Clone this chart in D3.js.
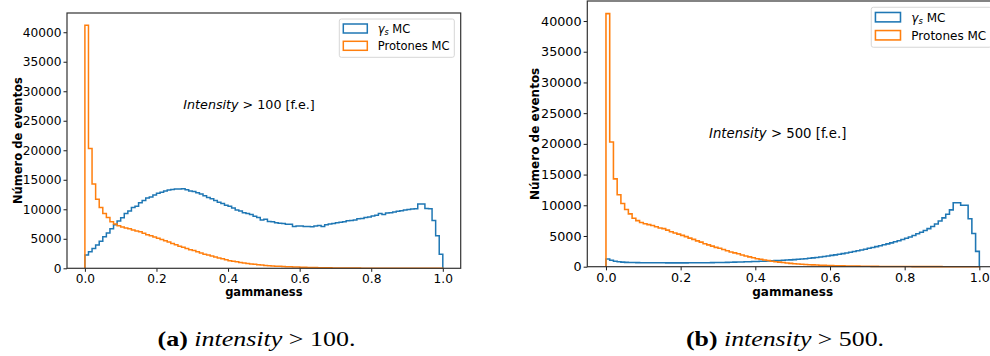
<!DOCTYPE html>
<html>
<head>
<meta charset="utf-8">
<script src="https://cdn.jsdelivr.net/npm/d3@7"></script>
<style>
  html, body { margin: 0; padding: 0; background: #fff; }
  svg { display: block; }
  text { font-family: "DejaVu Sans", sans-serif; fill: #000; }
</style>
</head>
<body>
<svg id="fig" width="990" height="356"></svg>
<script>
// Histogram binning of gammaness: 100 bins of width 0.01 on [0, 1]
const binStart = 0;
const binWidth = 0.01;

const xTickValues = [0, 0.2, 0.4, 0.6, 0.8, 1.0];
const yTickValues = [0, 5000, 10000, 15000, 20000, 25000, 30000, 35000, 40000];

// Gamma MC counts per bin, intensity > 100 p.e.
const gammas100 = [
  2250, 2800, 3350, 3950, 4600, 5350, 6000, 6700, 7400, 8000,
  8550, 9300, 9700, 10300, 10500, 11100, 11500, 11900, 12100, 12400,
  12700, 12900, 13100, 13250, 13350, 13450, 13450, 13500, 13300, 13100,
  13000, 12800, 12600, 12300, 12000, 11800, 11500, 11200, 11000, 10700,
  10500, 10200, 9900, 9700, 9400, 9300, 9100, 8800, 8600, 8200,
  8300, 7950, 7900, 7700, 7650, 7600, 7450, 7450, 7100, 7150,
  7150, 7100, 7100, 7050, 7150, 7250, 7100, 7400, 7500, 7600,
  7700, 7800, 7900, 8050, 8100, 8200, 8400, 8450, 8600, 8700,
  8850, 9000, 9300, 9100, 9350, 9400, 9550, 9650, 9750, 9900,
  9950, 10050, 10100, 10900, 10900, 10150, 10100, 8100, 5500, 2400
];

// Gamma MC counts per bin, intensity > 500 p.e.
const gammas500 = [
  1250, 1050, 900, 800, 740, 700, 680, 670, 660, 650,
  650, 640, 640, 630, 630, 630, 620, 620, 620, 620,
  620, 620, 630, 630, 630, 640, 640, 650, 660, 670,
  680, 690, 700, 720, 740, 760, 780, 800, 820, 840,
  860, 880, 900, 930, 960, 990, 1020, 1050, 1080, 1110,
  1150, 1200, 1250, 1300, 1370, 1440, 1510, 1580, 1660, 1750,
  1840, 1930, 2030, 2130, 2240, 2350, 2470, 2590, 2720, 2850,
  2990, 3130, 3270, 3410, 3560, 3720, 3880, 4050, 4230, 4420,
  4620, 4850, 5090, 5350, 5620, 5900, 6200, 6550, 6950, 7450,
  7950, 8550, 9250, 10400, 10400, 10000, 10000, 7800, 5400, 2500
];

// Proton MC counts per bin (same sample in both panels)
const protons = [
  41200, 20300, 14300, 11700, 10300, 9300, 8600, 7900, 7500, 7200,
  7000, 6850, 6700, 6500, 6300, 6200, 5950, 5700, 5500, 5300,
  5100, 4900, 4650, 4450, 4200, 4000, 3750, 3550, 3350, 3150,
  3000, 2800, 2600, 2400, 2250, 2100, 1900, 1750, 1600, 1450,
  1300, 1200, 1100, 1000, 900, 820, 740, 670, 600, 540,
  490, 440, 400, 360, 330, 300, 270, 245, 220, 200,
  180, 165, 150, 135, 120, 110, 100, 90, 80, 72,
  65, 58, 52, 46, 41, 37, 33, 29, 26, 23,
  20, 18, 16, 14, 12, 11, 10, 9, 8, 7,
  6, 6, 5, 5, 4, 4, 3, 3, 2, 2
];

const seriesColors = ["#1f77b4", "#ff7f0e"];
const protonLabel = "Protones MC";
const xLabel = "gammaness";
const yLabel = "Número de eventos";

const panels = [
  { left: 67, top: 13, right: 460.7, bottom: 268.3, s: 1.0,
    gammas: gammas100, cut: "100", tag: "(a)", capCx: 256.5, yLabelX: 18,
    annot: [0.275, 27000] },
  { left: 587.3, top: 1, right: 998, bottom: 266.7, s: 1.044,
    gammas: gammas500, cut: "500", tag: "(b)", capCx: 785, yLabelX: 535,
    annot: [0.276, 21000] }
];

const svg = d3.select("#fig");

// Outline of a step histogram: up from zero at the first edge, across each bin, down at the last edge
function stepPoints(counts) {
  const pts = [[binStart, 0]];
  counts.forEach((c, i) => {
    pts.push([binStart + i * binWidth, c]);
    pts.push([binStart + (i + 1) * binWidth, c]);
  });
  pts.push([binStart + counts.length * binWidth, 0]);
  return pts;
}

panels.forEach(p => {
  const s = p.s;
  const fs = 11.5 * s;
  const tickFs = 12.2 * s;
  const yMax = 1.05 * d3.max([...p.gammas, ...protons]);

  const x = d3.scaleLinear().domain([-0.05, 1.05]).range([p.left, p.right]);
  const y = d3.scaleLinear().domain([0, yMax]).range([p.bottom, p.top]);

  const g = svg.append("g");

  // histograms
  const line = d3.line().x(d => x(d[0])).y(d => y(d[1]));
  [p.gammas, protons].forEach((counts, k) => {
    g.append("path")
      .attr("d", line(stepPoints(counts)))
      .attr("fill", "none")
      .attr("stroke", seriesColors[k])
      .attr("stroke-width", 1.5 * s)
      .attr("stroke-linejoin", "miter");
  });

  // axes
  const xAxis = d3.axisBottom(x).tickValues(xTickValues)
    .tickFormat(d3.format(".1f")).tickSize(3.5 * s).tickPadding(2.5 * s);
  const yAxis = d3.axisLeft(y).tickValues(yTickValues)
    .tickFormat(d3.format("d")).tickSize(3.5 * s).tickPadding(2 * s);

  const gx = g.append("g").attr("transform", `translate(0,${p.bottom})`).call(xAxis);
  const gy = g.append("g").attr("transform", `translate(${p.left},0)`).call(yAxis);
  [gx, gy].forEach(a => {
    a.select(".domain").remove();
    a.selectAll(".tick line").attr("stroke", "#000").attr("stroke-width", 0.9);
    a.selectAll(".tick text")
      .attr("fill", "#000")
      .style("font-family", '"DejaVu Sans", sans-serif')
      .style("font-size", tickFs + "px");
  });

  // frame
  g.append("rect")
    .attr("x", p.left).attr("y", p.top)
    .attr("width", p.right - p.left).attr("height", p.bottom - p.top)
    .attr("fill", "none").attr("stroke", "#333").attr("stroke-width", 1.2);

  // axis titles
  g.append("text")
    .attr("x", (p.left + p.right) / 2).attr("y", p.bottom + 28 * s)
    .attr("text-anchor", "middle")
    .style("font-size", fs + "px").style("font-weight", "bold")
    .text(xLabel);
  g.append("text")
    .attr("transform", `translate(${p.yLabelX + 4 * s},${(p.top + p.bottom) / 2}) rotate(-90)`)
    .attr("text-anchor", "middle")
    .style("font-size", fs + "px").style("font-weight", "bold")
    .text(yLabel);

  // intensity cut annotation
  const an = g.append("text")
    .attr("x", x(p.annot[0])).attr("y", y(p.annot[1]))
    .style("font-size", (12.7 * s) + "px");
  an.append("tspan").style("font-style", "italic").text("Intensity");
  an.append("tspan").text(" > " + p.cut + " [f.e.]");

  // legend
  const lw = 115 * s, lh = 38.3 * s;
  const lx = p.right - 6.4 * s - lw, ly = p.top + 6 * s;
  const lg = g.append("g");
  lg.append("rect")
    .attr("x", lx).attr("y", ly).attr("width", lw).attr("height", lh)
    .attr("rx", 2 * s)
    .attr("fill", "#fff").attr("fill-opacity", 0.8)
    .attr("stroke", "#d6d6d6").attr("stroke-width", 1);
  [0, 1].forEach(k => {
    const ry = ly + (5 + k * 17.3) * s;
    lg.append("rect")
      .attr("x", lx + 4 * s).attr("y", ry)
      .attr("width", 24 * s).attr("height", 9 * s)
      .attr("fill", "none").attr("stroke", seriesColors[k]).attr("stroke-width", 1.5 * s);
    const t = lg.append("text")
      .attr("x", lx + 38.4 * s).attr("y", ry + 8.7 * s)
      .style("font-size", fs + "px");
    if (k === 0) {
      t.append("tspan").style("font-style", "italic").text("γ");
      t.append("tspan").style("font-style", "italic")
        .style("font-size", (fs * 0.7) + "px").attr("dy", 2 * s).text("s");
      t.append("tspan").attr("dy", -2 * s).text(" MC");
    } else {
      t.text(protonLabel);
    }
  });

  // sub-figure caption
  const cap = svg.append("text")
    .attr("x", p.capCx).attr("y", 346)
    .attr("text-anchor", "middle")
    .attr("textLength", 198).attr("lengthAdjust", "spacingAndGlyphs")
    .style("font-family", '"Liberation Serif", serif')
    .style("font-size", "22px");
  cap.append("tspan").style("font-weight", "bold").text(p.tag);
  cap.append("tspan").style("font-style", "italic").text(" intensity");
  cap.append("tspan").text(" > " + p.cut + ".");
});
</script>
</body>
</html>
